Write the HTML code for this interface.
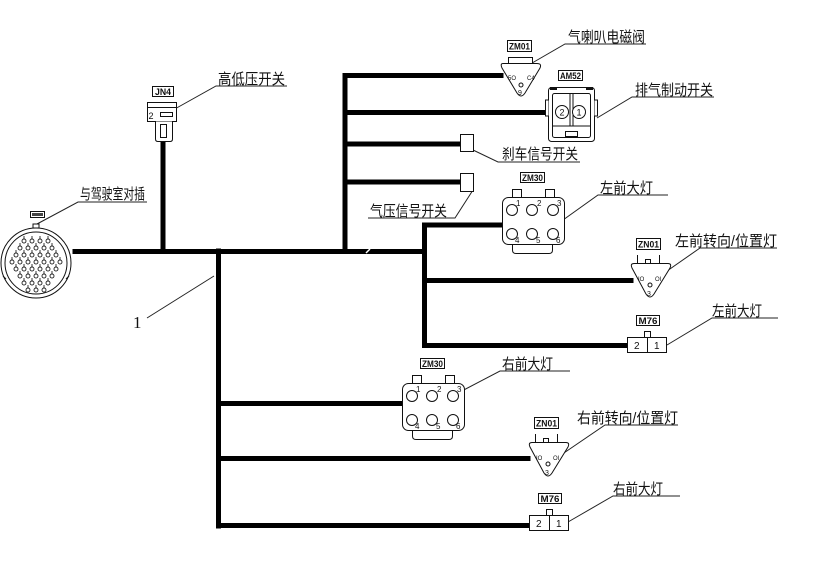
<!DOCTYPE html>
<html><head><meta charset="utf-8">
<style>
html,body{margin:0;padding:0;background:#fff;}
svg{display:block;}
.cn{font-family:"Liberation Sans","Noto Sans CJK SC",sans-serif;font-size:15px;fill:#111;}
.lb{font-family:"Liberation Sans",sans-serif;font-size:9px;fill:#111;font-weight:bold;}
.pn{font-family:"Liberation Sans",sans-serif;font-size:9px;fill:#111;}
</style></head>
<body>
<svg width="833" height="583" viewBox="0 0 833 583" xmlns="http://www.w3.org/2000/svg">
<rect width="833" height="583" fill="#fff"/>

<!-- Wires -->
<g stroke="#000" stroke-width="5" fill="none" stroke-linecap="square">
  <line x1="75" y1="251.5" x2="424" y2="251.5"/>
  <line x1="163" y1="142" x2="163" y2="251"/>
  <line x1="345" y1="75.5" x2="345" y2="251"/>
  <line x1="345" y1="75.5" x2="501" y2="75.5"/>
  <line x1="345" y1="112.5" x2="547" y2="112.5"/>
  <line x1="345" y1="144" x2="459" y2="144"/>
  <line x1="345" y1="182" x2="459" y2="182"/>
  <line x1="424.5" y1="225" x2="424.5" y2="345.5"/>
  <line x1="424.5" y1="225" x2="501" y2="225"/>
  <line x1="424.5" y1="280.5" x2="631" y2="280.5"/>
  <line x1="424.5" y1="345.5" x2="626" y2="345.5"/>
  <line x1="218.5" y1="251" x2="218.5" y2="526"/>
  <line x1="218.5" y1="403.5" x2="401" y2="403.5"/>
  <line x1="218.5" y1="458.5" x2="528" y2="458.5"/>
  <line x1="218.5" y1="525.5" x2="528" y2="525.5"/>
</g>
<line x1="366" y1="253" x2="370" y2="249" stroke="#fff" stroke-width="1.5"/>

<!-- Leader lines and underlines -->
<g stroke="#222" stroke-width="1" fill="none">
  <polyline points="173,110 216,86 287,86"/>
  <polyline points="37,224 78,202 147,202"/>
  <polyline points="520,70 565,44 646,44"/>
  <polyline points="597,118 632,97 714,97"/>
  <polyline points="473,150 498,162 580,162"/>
  <polyline points="473,190 455,218 368,218"/>
  <polyline points="563,220 598,195 668,195"/>
  <polyline points="657,278 700,248 777,248"/>
  <polyline points="667,345 712,318 778,318"/>
  <polyline points="458,393 500,371 570,371"/>
  <polyline points="558,457 605,425 678,425"/>
  <polyline points="568,522 613,496 680,496"/>
  <line x1="147" y1="318" x2="214" y2="276"/>
</g>

<!-- Labels -->
<text class="cn" x="218" y="84" textLength="67" lengthAdjust="spacingAndGlyphs">高低压开关</text>
<text class="cn" x="80" y="199" textLength="65" lengthAdjust="spacingAndGlyphs">与驾驶室对插</text>
<text class="cn" x="568" y="42" textLength="77" lengthAdjust="spacingAndGlyphs">气喇叭电磁阀</text>
<text class="cn" x="635" y="95" textLength="78" lengthAdjust="spacingAndGlyphs">排气制动开关</text>
<text class="cn" x="502" y="159" textLength="76" lengthAdjust="spacingAndGlyphs">刹车信号开关</text>
<text class="cn" x="370" y="216" textLength="77" lengthAdjust="spacingAndGlyphs">气压信号开关</text>
<text class="cn" x="600" y="193" textLength="53" lengthAdjust="spacingAndGlyphs">左前大灯</text>
<text class="cn" x="675" y="246" textLength="102" lengthAdjust="spacingAndGlyphs">左前转向/位置灯</text>
<text class="cn" x="712" y="316" textLength="50" lengthAdjust="spacingAndGlyphs">左前大灯</text>
<text class="cn" x="502" y="369" textLength="51" lengthAdjust="spacingAndGlyphs">右前大灯</text>
<text class="cn" x="577" y="423" textLength="101" lengthAdjust="spacingAndGlyphs">右前转向/位置灯</text>
<text class="cn" x="613" y="494" textLength="50" lengthAdjust="spacingAndGlyphs">右前大灯</text>
<text x="133" y="328" style="font-family:'Liberation Serif',serif;font-size:17px;fill:#111;">1</text>

<!-- JN4 connector -->
<g stroke="#111" stroke-width="1" fill="#fff">
  <rect x="152.5" y="86.5" width="21" height="10"/>
  <rect x="147.5" y="102.5" width="29" height="19"/>
  <line x1="147.5" y1="107.5" x2="176.5" y2="107.5"/>
  <path d="M155.5 121.5 V139 Q155.5 141.5 158 141.5 H170 Q172.5 141.5 172.5 139 V121.5"/>
  <rect x="160.5" y="112.5" width="12" height="4"/>
  <rect x="160.5" y="124.5" width="6" height="13"/>
</g>
<text class="lb" x="155" y="95" textLength="16" lengthAdjust="spacingAndGlyphs">JN4</text>
<text class="pn" x="148.5" y="119">2</text>

<!-- Round connector -->
<g stroke="#111" stroke-width="1" fill="none">
  <circle cx="36" cy="263" r="35"/>
  <circle cx="36" cy="263" r="31"/>
  <rect x="33" y="224" width="6" height="4" fill="#fff"/>
  <rect x="30.5" y="211.5" width="14" height="6" fill="#fff"/>
  <path d="M3 276 l3 3 M69 276 l-3 3"/>
</g>
<rect x="32" y="213" width="11" height="3" fill="#444"/>
<g stroke="#222" stroke-width="0.9" fill="none">
  <circle cx="24" cy="241" r="2"/><circle cx="32" cy="241" r="2"/><circle cx="40" cy="241" r="2"/><circle cx="48" cy="241" r="2"/>
  <circle cx="20" cy="248" r="2"/><circle cx="28" cy="248" r="2"/><circle cx="36" cy="248" r="2"/><circle cx="44" cy="248" r="2"/><circle cx="52" cy="248" r="2"/>
  <circle cx="16" cy="255" r="2"/><circle cx="24" cy="255" r="2"/><circle cx="32" cy="255" r="2"/><circle cx="40" cy="255" r="2"/><circle cx="48" cy="255" r="2"/><circle cx="56" cy="255" r="2"/>
  <circle cx="12" cy="262" r="2"/><circle cx="20" cy="262" r="2"/><circle cx="28" cy="262" r="2"/><circle cx="36" cy="262" r="2"/><circle cx="44" cy="262" r="2"/><circle cx="52" cy="262" r="2"/><circle cx="60" cy="262" r="2"/>
  <circle cx="16" cy="269" r="2"/><circle cx="24" cy="269" r="2"/><circle cx="32" cy="269" r="2"/><circle cx="40" cy="269" r="2"/><circle cx="48" cy="269" r="2"/><circle cx="56" cy="269" r="2"/>
  <circle cx="20" cy="276" r="2"/><circle cx="28" cy="276" r="2"/><circle cx="36" cy="276" r="2"/><circle cx="44" cy="276" r="2"/><circle cx="52" cy="276" r="2"/>
  <circle cx="24" cy="283" r="2"/><circle cx="32" cy="283" r="2"/><circle cx="40" cy="283" r="2"/><circle cx="48" cy="283" r="2"/>
  <circle cx="28" cy="290" r="2"/><circle cx="36" cy="290" r="2"/><circle cx="44" cy="290" r="2"/>
  <path d="M24 239v-3M32 239v-3M40 239v-3M48 239v-3M20 246v-3M28 246v-3M36 246v-3M44 246v-3M52 246v-3M16 253v-3M24 253v-3M32 253v-3M40 253v-3M48 253v-3M56 253v-3M12 260v-3M20 260v-3M28 260v-3M36 260v-3M44 260v-3M52 260v-3M60 260v-3M16 267v-3M24 267v-3M32 267v-3M40 267v-3M48 267v-3M56 267v-3M20 274v-3M28 274v-3M36 274v-3M44 274v-3M52 274v-3M24 281v-3M32 281v-3M40 281v-3M48 281v-3M28 288v-3M36 288v-3M44 288v-3"/>
</g>

<!-- ZM01 (top) -->
<g stroke="#111" stroke-width="1" fill="#fff">
  <rect x="507.5" y="40.5" width="24" height="11"/>
  <rect x="508.5" y="57.5" width="24" height="6"/>
  <path d="M503 63.5 H537 Q542 63.5 540 68 L525 93 Q521 99 517 93 L502 68 Q500 63.5 503 63.5 Z"/>
  <circle cx="521" cy="85" r="2"/>
</g>
<text class="lb" x="509" y="49.5" textLength="21" lengthAdjust="spacingAndGlyphs">ZM01</text>
<text class="pn" x="508" y="80" style="font-size:6px">5O</text>
<text class="pn" x="527" y="80" style="font-size:6px">C4</text>
<text class="pn" x="518" y="95" style="font-size:7px">9</text>

<!-- AM52 -->
<g stroke="#111" stroke-width="1" fill="#fff">
  <rect x="558.5" y="70.5" width="24" height="10"/>
  <rect x="548.5" y="87.5" width="46" height="54" rx="3"/>
  <rect x="552.5" y="93.5" width="38" height="44" rx="2"/>
  <line x1="570" y1="93.5" x2="570" y2="126"/>
  <line x1="573" y1="93.5" x2="573" y2="126"/>
  <path d="M552.5 126 H590.5"/>
  <circle cx="562" cy="112" r="6.5"/>
  <circle cx="579" cy="112" r="6.5"/>
  <rect x="565.5" y="131.5" width="12" height="5"/>
  <path d="M548.5 100 h-3 v16 h3 M594.5 100 h3 v16 h-3"/>
</g>
<rect x="550" y="87" width="7" height="3" fill="#111"/>
<rect x="586" y="87" width="7" height="3" fill="#111"/>
<text class="lb" x="560" y="79" textLength="21" lengthAdjust="spacingAndGlyphs">AM52</text>
<text class="pn" x="559.5" y="115.5">2</text>
<text class="pn" x="576.5" y="115.5">1</text>

<!-- small boxes -->
<g stroke="#111" stroke-width="1" fill="#fff">
  <rect x="460.5" y="134.5" width="13" height="17"/>
  <rect x="460.5" y="173.5" width="13" height="18"/>
</g>

<!-- ZM30 (top) -->
<g stroke="#111" stroke-width="1" fill="#fff">
  <rect x="520.5" y="172.5" width="24" height="10"/>
  <rect x="512.5" y="189.5" width="9" height="8"/>
  <rect x="545.5" y="189.5" width="9" height="8"/>
  <path d="M512.5 245 V250 Q512.5 253.5 516 253.5 H549 Q552.5 253.5 552.5 250 V245"/>
  <rect x="502.5" y="197.5" width="62" height="47" rx="6"/>
  <circle cx="512" cy="210" r="5.5"/><circle cx="532" cy="210" r="5.5"/><circle cx="553" cy="210" r="5.5"/>
  <circle cx="512" cy="234" r="5.5"/><circle cx="532" cy="234" r="5.5"/><circle cx="553" cy="234" r="5.5"/>
</g>
<g class="pn" style="font-size:8px">
  <text x="522" y="181" class="lb" textLength="21" lengthAdjust="spacingAndGlyphs">ZM30</text>
  <text x="516" y="206">1</text><text x="537" y="206">2</text><text x="557" y="206">3</text>
  <text x="515" y="243">4</text><text x="536" y="243">5</text><text x="556" y="243">6</text>
</g>

<!-- ZM30 (right, lower) -->
<g transform="translate(-100,186)">
<g stroke="#111" stroke-width="1" fill="#fff">
  <rect x="520.5" y="172.5" width="24" height="10"/>
  <rect x="512.5" y="189.5" width="9" height="8"/>
  <rect x="545.5" y="189.5" width="9" height="8"/>
  <path d="M512.5 245 V250 Q512.5 253.5 516 253.5 H549 Q552.5 253.5 552.5 250 V245"/>
  <rect x="502.5" y="197.5" width="62" height="47" rx="6"/>
  <circle cx="512" cy="210" r="5.5"/><circle cx="532" cy="210" r="5.5"/><circle cx="553" cy="210" r="5.5"/>
  <circle cx="512" cy="234" r="5.5"/><circle cx="532" cy="234" r="5.5"/><circle cx="553" cy="234" r="5.5"/>
</g>
<g class="pn" style="font-size:8px">
  <text x="522" y="181" class="lb" textLength="21" lengthAdjust="spacingAndGlyphs">ZM30</text>
  <text x="516" y="206">1</text><text x="537" y="206">2</text><text x="557" y="206">3</text>
  <text x="515" y="243">4</text><text x="536" y="243">5</text><text x="556" y="243">6</text>
</g>
</g>

<!-- ZN01 left -->
<g>
<g stroke="#111" stroke-width="1" fill="#fff">
  <rect x="636.5" y="238.5" width="24" height="11"/>
  <line x1="637.5" y1="255" x2="637.5" y2="263"/>
  <line x1="659.5" y1="255" x2="659.5" y2="263"/>
  <rect x="645.5" y="259.5" width="5" height="4"/>
  <path d="M634 263.5 H668 Q672 263.5 670 268 L654 294 Q650 300 646 294 L632 268 Q630 263.5 634 263.5 Z"/>
  <circle cx="650" cy="285" r="2"/>
</g>
<text class="lb" x="638" y="247.5" textLength="21" lengthAdjust="spacingAndGlyphs">ZN01</text>
<text class="pn" x="638" y="281" style="font-size:6px">IO</text>
<text class="pn" x="655" y="281" style="font-size:6px">OI</text>
<text class="pn" x="647" y="296" style="font-size:7px">3</text>
</g>

<!-- ZN01 right -->
<g transform="translate(-102,179)">
<g stroke="#111" stroke-width="1" fill="#fff">
  <rect x="636.5" y="238.5" width="24" height="11"/>
  <line x1="637.5" y1="255" x2="637.5" y2="263"/>
  <line x1="659.5" y1="255" x2="659.5" y2="263"/>
  <rect x="645.5" y="259.5" width="5" height="4"/>
  <path d="M634 263.5 H668 Q672 263.5 670 268 L654 294 Q650 300 646 294 L632 268 Q630 263.5 634 263.5 Z"/>
  <circle cx="650" cy="285" r="2"/>
</g>
<text class="lb" x="638" y="247.5" textLength="21" lengthAdjust="spacingAndGlyphs">ZN01</text>
<text class="pn" x="638" y="281" style="font-size:6px">IO</text>
<text class="pn" x="655" y="281" style="font-size:6px">OI</text>
<text class="pn" x="647" y="296" style="font-size:7px">3</text>
</g>

<!-- M76 left -->
<g>
<g stroke="#111" stroke-width="1" fill="#fff">
  <rect x="636.5" y="315.5" width="23" height="10"/>
  <rect x="644.5" y="331.5" width="6" height="6"/>
  <rect x="627.5" y="337.5" width="39" height="15"/>
  <line x1="647.5" y1="337.5" x2="647.5" y2="352.5"/>
</g>
<text class="lb" x="638.5" y="324" textLength="19" lengthAdjust="spacingAndGlyphs">M76</text>
<text class="pn" x="634" y="349" style="font-size:10px">2</text>
<text class="pn" x="654" y="349" style="font-size:10px">1</text>
</g>

<!-- M76 right -->
<g transform="translate(-98,178)">
<g stroke="#111" stroke-width="1" fill="#fff">
  <rect x="636.5" y="315.5" width="23" height="10"/>
  <rect x="644.5" y="331.5" width="6" height="6"/>
  <rect x="627.5" y="337.5" width="39" height="15"/>
  <line x1="647.5" y1="337.5" x2="647.5" y2="352.5"/>
</g>
<text class="lb" x="638.5" y="324" textLength="19" lengthAdjust="spacingAndGlyphs">M76</text>
<text class="pn" x="634" y="349" style="font-size:10px">2</text>
<text class="pn" x="654" y="349" style="font-size:10px">1</text>
</g>

</svg>
</body></html>
